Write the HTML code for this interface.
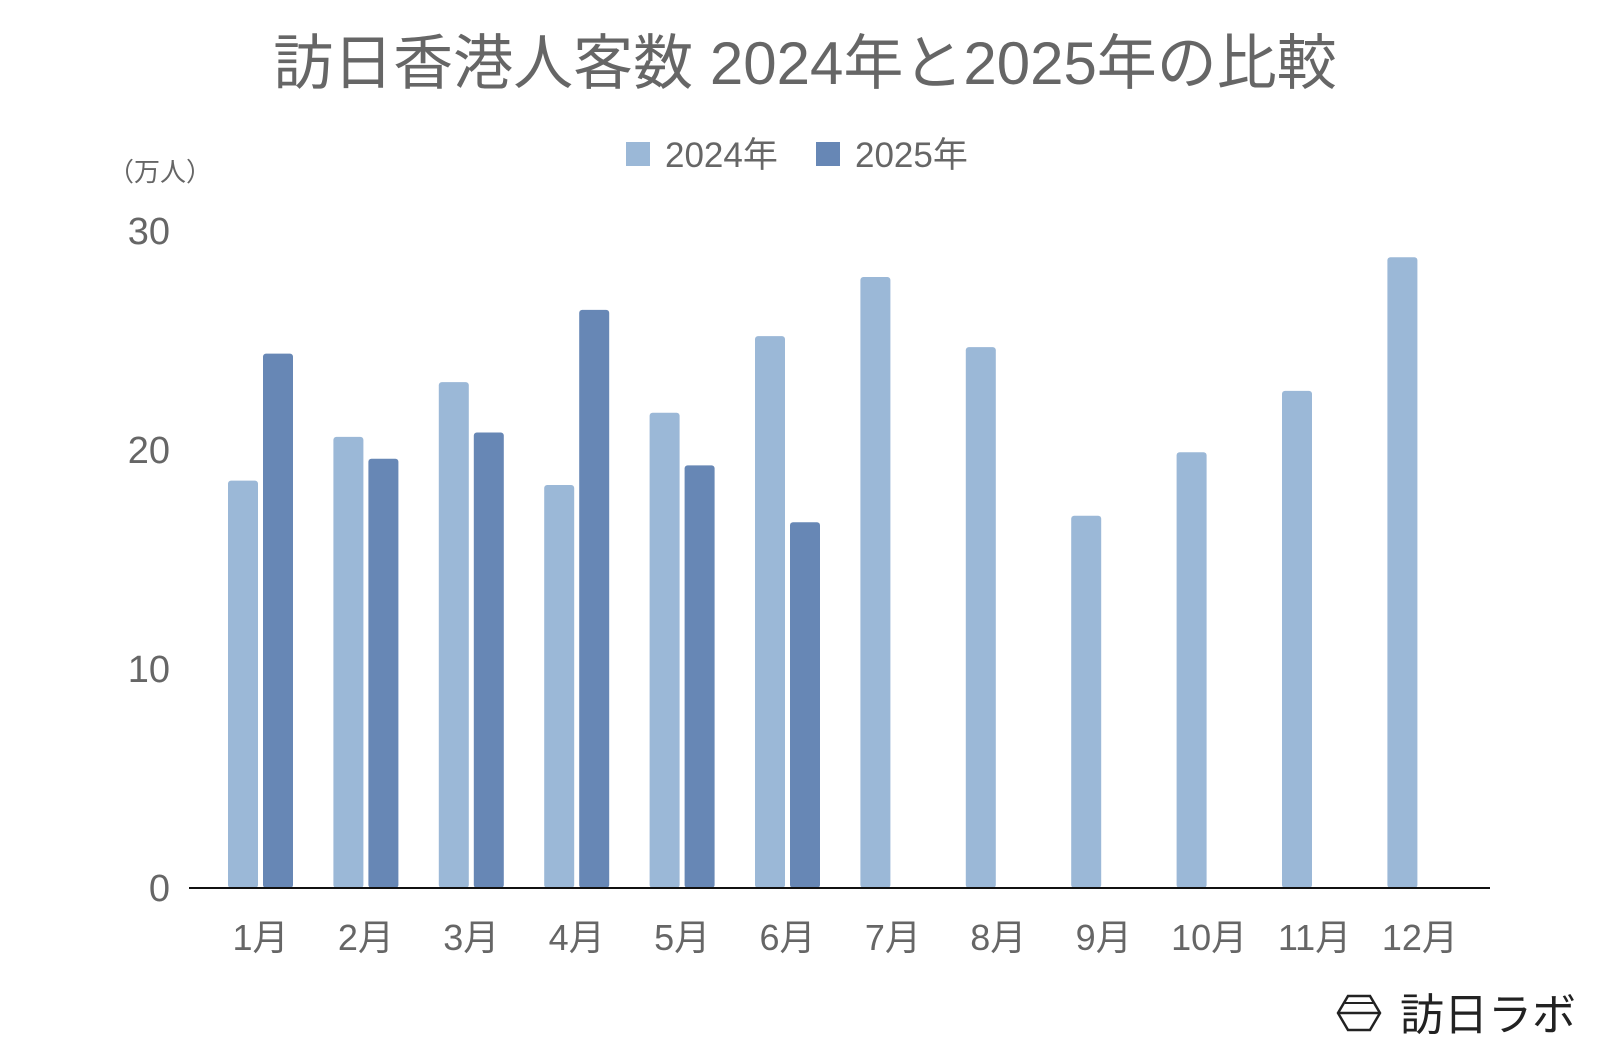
<!DOCTYPE html>
<html><head><meta charset="utf-8"><style>
body{margin:0;background:#fff;}
svg text{font-family:"Liberation Sans","Noto Sans CJK JP",sans-serif;fill:#666;}
</style></head><body>
<svg id="chart" width="1600" height="1042" viewBox="0 0 1600 1042">
<text x="805" y="84" font-size="60" text-anchor="middle">訪日香港人客数 2024年と2025年の比較</text>
<g>
<rect x="626" y="142" width="24" height="24" fill="#9bb8d7"/>
<text x="665" y="167" font-size="35">2024年</text>
<rect x="816" y="142" width="24" height="24" fill="#6787b5"/>
<text x="855" y="167" font-size="35">2025年</text>
</g>
<text x="108" y="181" font-size="26">（万人）</text>
<g id="bars"></g>
<g id="ticks"></g>
<line x1="189" y1="888" x2="1490" y2="888" stroke="#111" stroke-width="2"/>
<g>
<polygon points="1338,1013 1348,996 1370,996 1380,1013 1370,1030 1348,1030" fill="none" stroke="#222" stroke-width="2.5"/>
<line x1="1338" y1="1013" x2="1380" y2="1013" stroke="#222" stroke-width="2.5"/>
<line x1="1345" y1="1003" x2="1373" y2="1003" stroke="#222" stroke-width="2"/>
<text x="1400" y="1030" font-size="44" style="fill:#222">訪日ラボ</text>
</g>
</svg>
<script>
const months=["1月","2月","3月","4月","5月","6月","7月","8月","9月","10月","11月","12月"];
const values2024=[18.6,20.6,23.1,18.4,21.7,25.2,27.9,24.7,17.0,19.9,22.7,28.8];
const values2025=[24.4,19.6,20.8,26.4,19.3,16.7,null,null,null,null,null,null];
const yTicks=[0,10,20,30];
const NS="http://www.w3.org/2000/svg";
const y0=888,pxPerUnit=21.9,x0=228,step=105.4,bw=30,gap=5;
const yScale=v=>y0-v*pxPerUnit;
const xScale=i=>x0+i*step;
const bars=document.getElementById('bars'),ticks=document.getElementById('ticks');
function bar(x,v,fill,name){
 const r=document.createElementNS(NS,'rect');
 r.setAttribute('x',x);r.setAttribute('y',yScale(v));r.setAttribute('width',bw);
 r.setAttribute('height',y0-yScale(v));r.setAttribute('rx',3);r.setAttribute('fill',fill);
 
 
 bars.appendChild(r);
}
months.forEach((m,i)=>{
 bar(xScale(i),values2024[i],'#9bb8d7','bar-2024-'+(i+1));
 if(values2025[i]!=null) bar(xScale(i)+bw+gap,values2025[i],'#6787b5','bar-2025-'+(i+1));
 const t=document.createElementNS(NS,'text');
 t.setAttribute('x',xScale(i)+bw+gap/2);t.setAttribute('y',950);
 t.setAttribute('font-size',36);t.setAttribute('text-anchor','middle');
 t.textContent=m;
 
 
 ticks.appendChild(t);
});
yTicks.forEach(v=>{
 const t=document.createElementNS(NS,'text');
 t.setAttribute('x',170);t.setAttribute('y',yScale(v)+13);
 t.setAttribute('font-size',38);t.setAttribute('text-anchor','end');
 t.textContent=v;
 
 
 ticks.appendChild(t);
});
</script>
</body></html>
